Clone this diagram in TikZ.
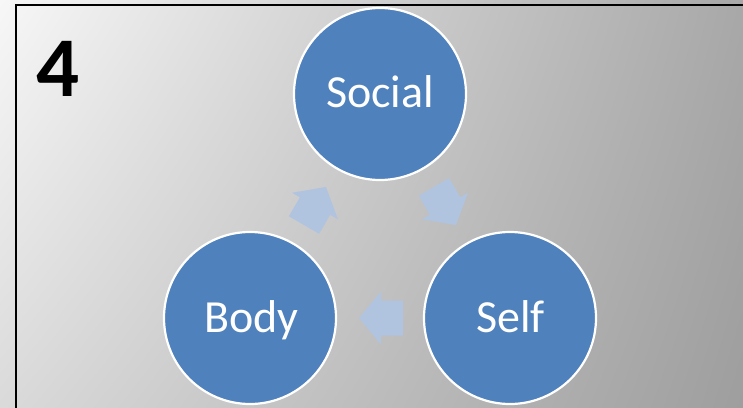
\documentclass[tikz,border=0pt]{standalone}
\usepackage{fontspec}
\setmainfont{Carlito}
\usetikzlibrary{shadings}
\definecolor{circblue}{HTML}{4F81BD}
\definecolor{arrblue}{HTML}{B0C4E0}
\definecolor{bgUL}{HTML}{F7F7F7}
\definecolor{bgUR}{HTML}{A8A8A8}
\definecolor{bgLL}{HTML}{DADADA}
\definecolor{bgLR}{HTML}{9E9E9E}
\tikzset{
  circ/.style={circle, fill=circblue, draw=white, line width=2.2pt, minimum size=172pt, inner sep=0pt},
  lbl/.style={text=white, font=\fontsize{46}{50}\selectfont, anchor=base, inner sep=0pt},
  blockarrow/.style={fill=arrblue, draw=none},
}
\begin{document}
\begin{tikzpicture}[x=1pt,y=-1pt]
\useasboundingbox (0,0) rectangle (743,407);
\clip (0,0) rectangle (743,407);
\shade[upper left=bgUL, upper right=bgUR, lower left=bgLL, lower right=bgLR] (0,0) rectangle (743,407);
\draw[line width=2pt, black] (16,420) -- (16,5) -- (760,5);
\node[font=\fontsize{85}{90}\selectfont\bfseries, inner sep=0pt] (num) at (58.5,69) {4};
% circles
\node[circ] (social) at (380,94) {};
\node[circ] (self) at (510,318) {};
\node[circ] (body) at (250,318) {};
\node[lbl] (socialt) at (380,107) {Social};
\node[lbl] (selft) at (510.5,332) {Self};
\node[lbl] (bodyt) at (251.5,332) {Body};
% arrows
\foreach \cx/\cy/\ang in {315/206/60, 445/206/-60, 381/318/180}{
  \begin{scope}[shift={(\cx,\cy)}, rotate=\ang]
    \fill[blockarrow] (22,0) -- (0,26.5) -- (0,17.5) -- (-22,17.5) -- (-22,-17.5) -- (0,-17.5) -- (0,-26.5) -- cycle;
  \end{scope}
}
\end{tikzpicture}
\end{document}
